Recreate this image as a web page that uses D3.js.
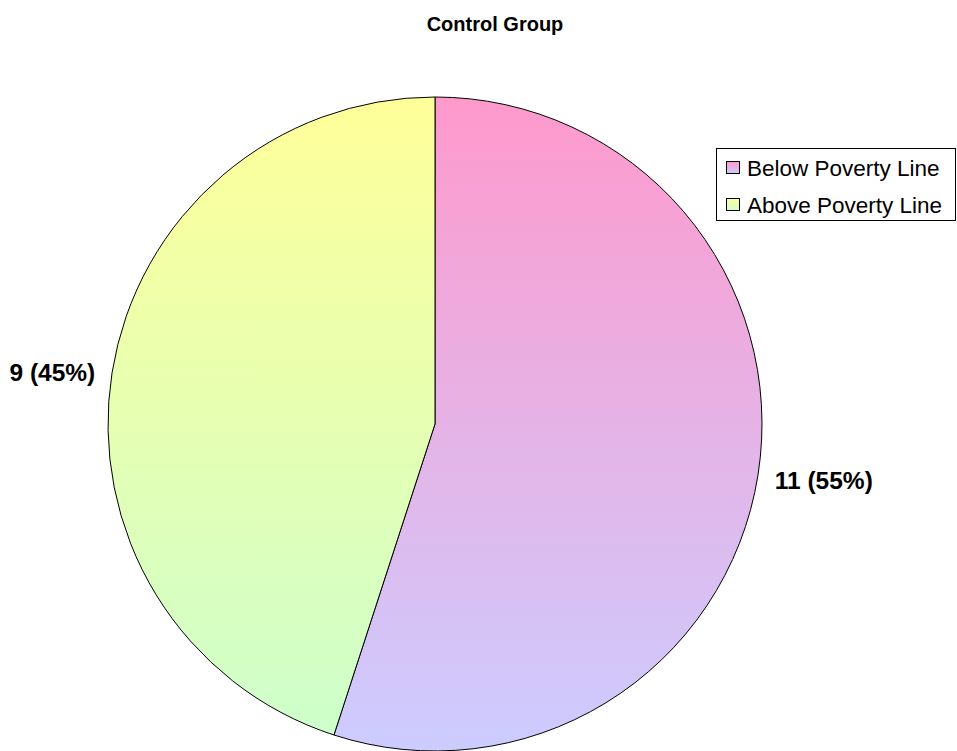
<!DOCTYPE html>
<html><head><meta charset="utf-8">
<script src="https://cdn.jsdelivr.net/npm/d3@7/dist/d3.min.js"></script>
<style>body{margin:0;background:#fff}svg{display:block}</style>
</head><body>
<script>
const title = "Control Group";
const categories = ["Below Poverty Line", "Above Poverty Line"];
const values = [11, 9];
const percents = ["55%", "45%"];
const topColors = ["#FF99CC", "#FFFF99"];
const bottomColors = ["#CCCCFF", "#CCFFCC"];

const W = 957, H = 751;
const cx = 435, cy = 424, R = 327;
const font = "Liberation Sans, Arial, sans-serif";
const svg = d3.select("body").append("svg").attr("width", W).attr("height", H);
const defs = svg.append("defs");
categories.forEach((c, i) => {
  const g = defs.append("linearGradient").attr("id", "g" + i)
    .attr("gradientUnits", "userSpaceOnUse")
    .attr("x1", 0).attr("y1", -R).attr("x2", 0).attr("y2", R);
  g.append("stop").attr("offset", 0).attr("stop-color", topColors[i]);
  g.append("stop").attr("offset", 1).attr("stop-color", bottomColors[i]);
  const s = defs.append("linearGradient").attr("id", "s" + i)
    .attr("x1", 0).attr("y1", 0).attr("x2", 0).attr("y2", 1);
  s.append("stop").attr("offset", 0).attr("stop-color", topColors[i]);
  s.append("stop").attr("offset", 1).attr("stop-color", bottomColors[i]);
});

svg.append("text").attr("x", 495).attr("y", 31).attr("text-anchor", "middle")
  .attr("font-family", font).attr("font-weight", "bold")
  .attr("font-size", 20).text(title);

const pie = d3.pie().sort(null).value(d => d)(values);
const arc = d3.arc().innerRadius(0).outerRadius(R);
const g = svg.append("g").attr("transform", `translate(${cx},${cy})`);
g.selectAll("path").data(pie).join("path")
  .attr("d", arc)
  .attr("fill", (d, i) => `url(#g${i})`)
  .attr("stroke", "#000").attr("stroke-width", 1);

g.selectAll("text.lbl").data(pie).join("text").attr("class", "lbl")
  .each(function(d, i) {
    const a = (d.startAngle + d.endAngle) / 2;
    const rr = R + 17;
    const x = Math.sin(a) * rr, y = -Math.cos(a) * rr;
    d3.select(this).attr("x", x).attr("y", y + 11)
      .attr("text-anchor", x > 0 ? "start" : "end");
  })
  .attr("font-family", font).attr("font-weight", "bold")
  .attr("font-size", 24.5)
  .text((d, i) => `${values[i]} (${percents[i]})`);

const lg = svg.append("g");
lg.append("rect").attr("x", 716.5).attr("y", 148.5).attr("width", 239).attr("height", 72)
  .attr("fill", "#fff").attr("stroke", "#000");
categories.forEach((c, i) => {
  const y = 168 + i * 37;
  lg.append("rect").attr("x", 726.5).attr("y", y - 6.5).attr("width", 13).attr("height", 12)
    .attr("fill", `url(#s${i})`).attr("stroke", "#000");
  lg.append("text").attr("x", 747).attr("y", y + 8)
    .attr("font-family", font).attr("font-size", 22.5)
    .text(c);
});
</script>
</body></html>
